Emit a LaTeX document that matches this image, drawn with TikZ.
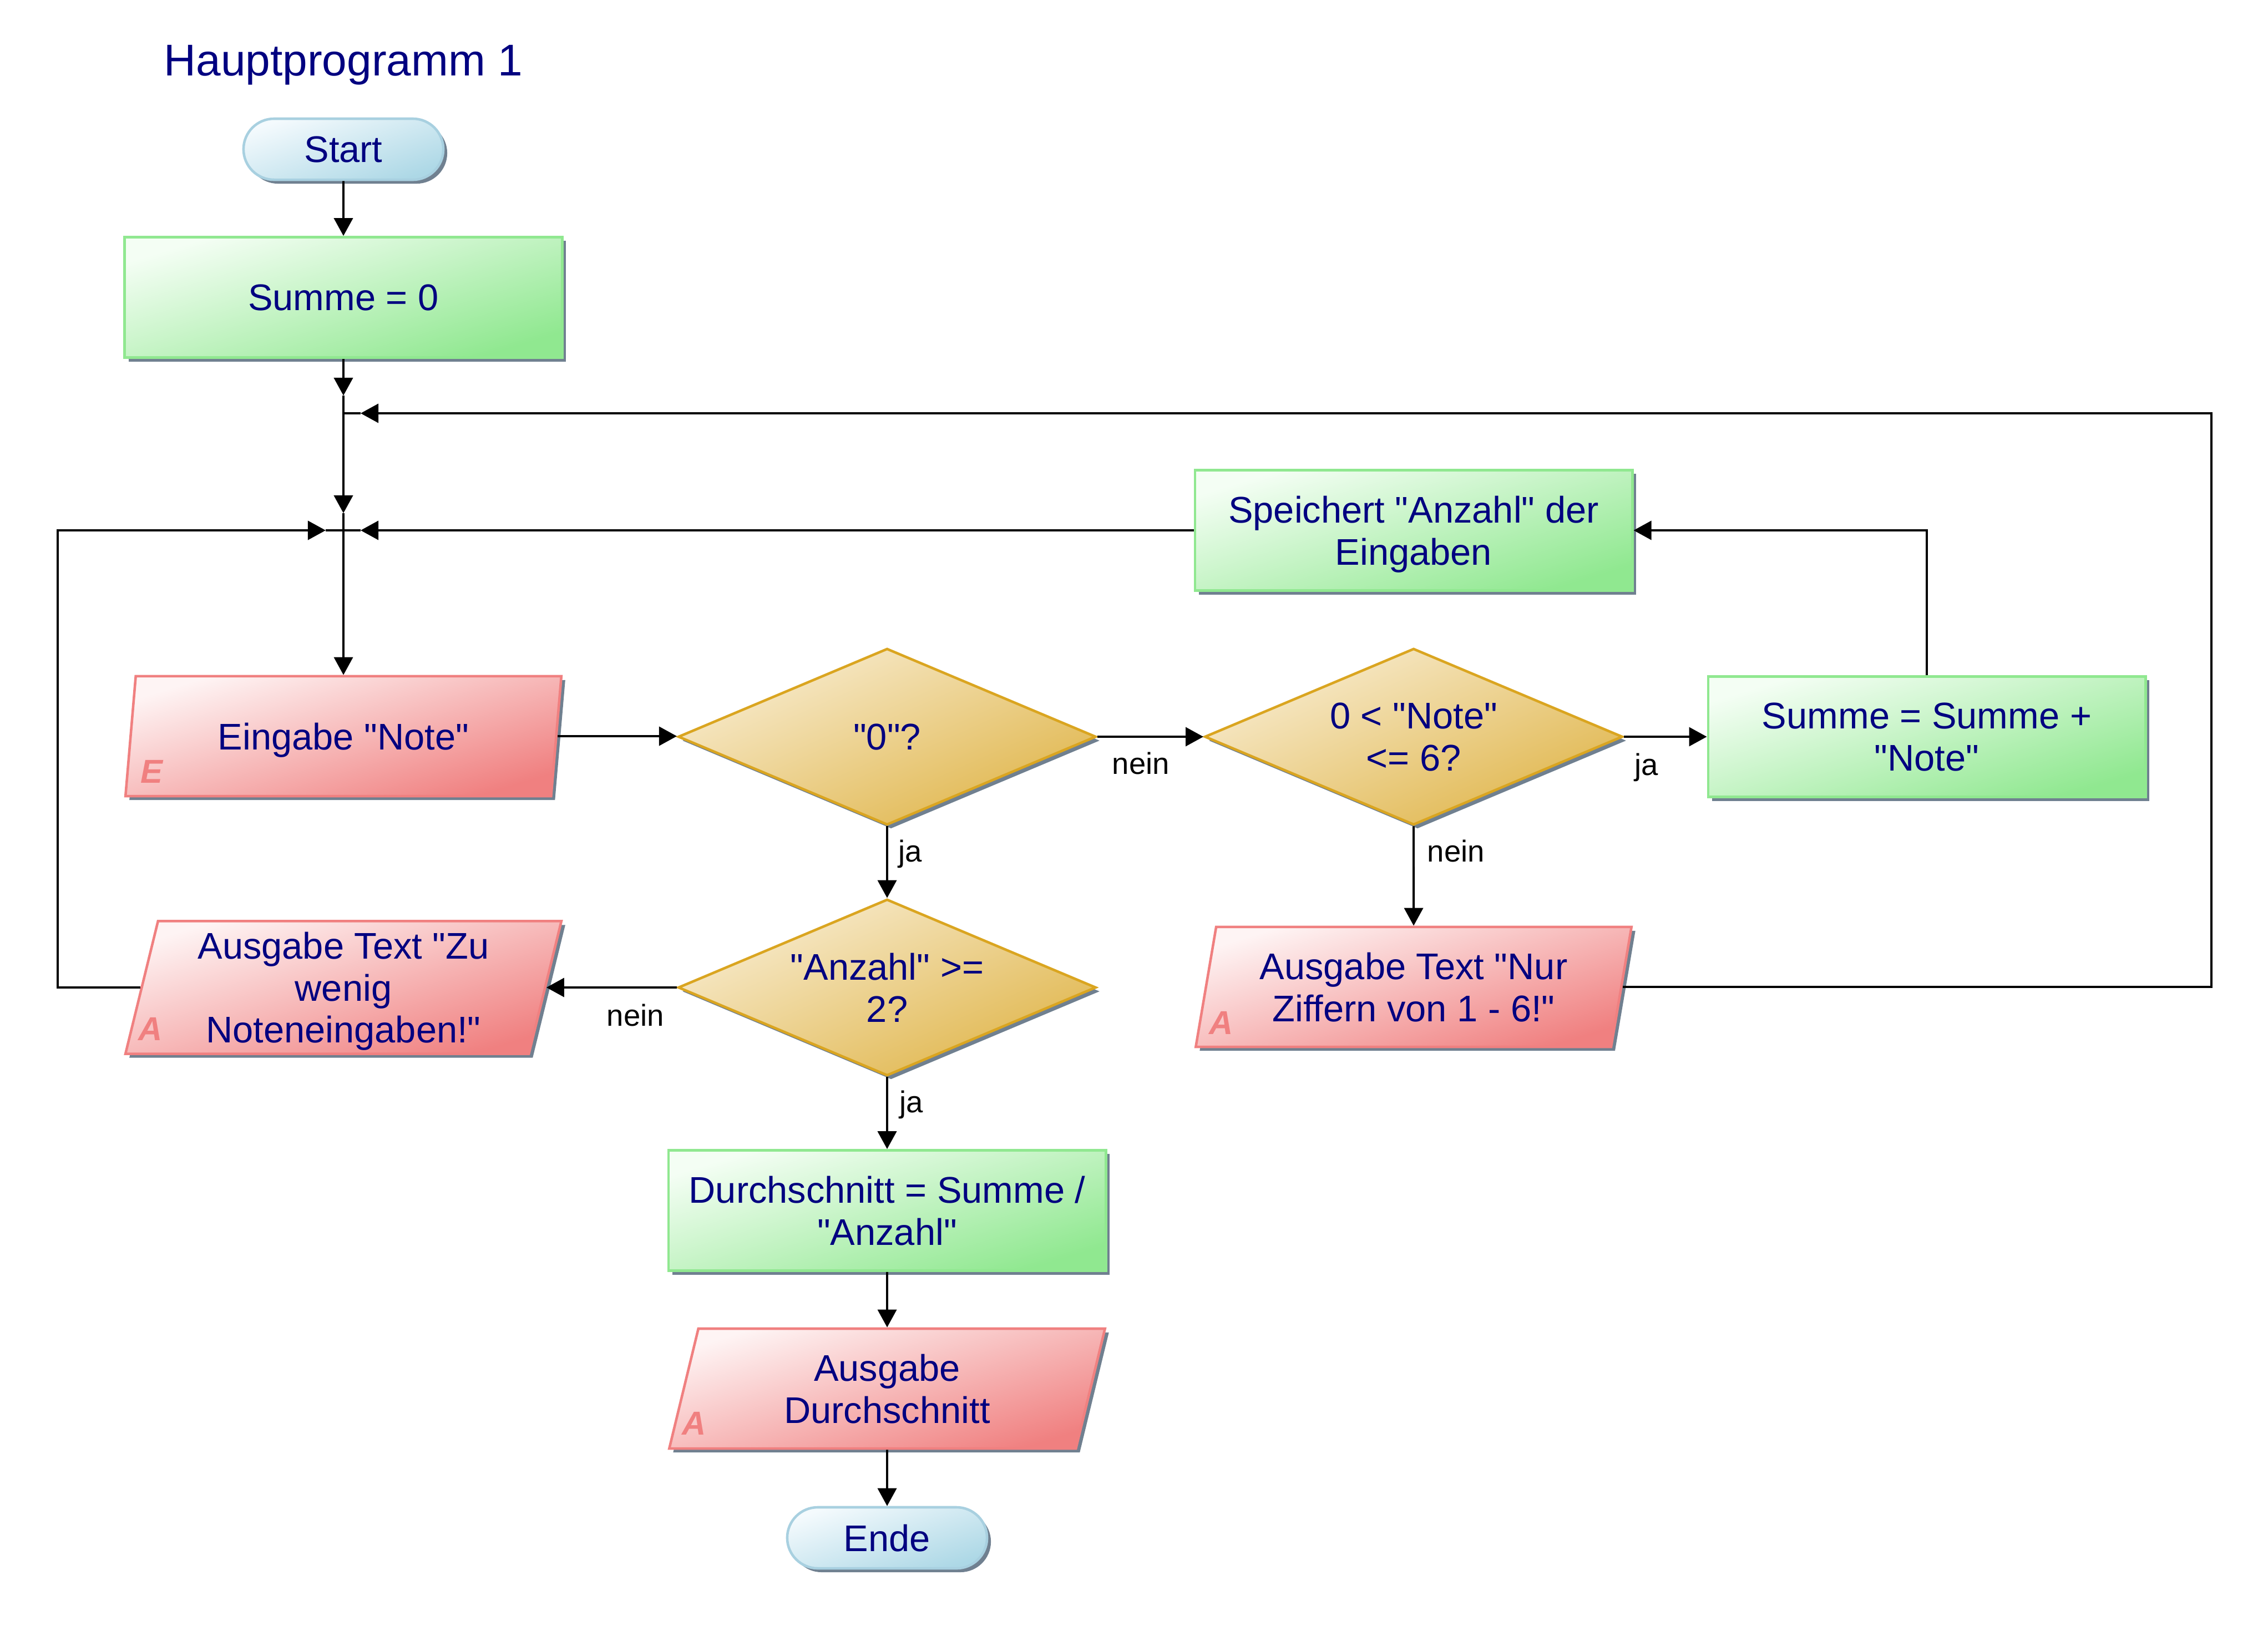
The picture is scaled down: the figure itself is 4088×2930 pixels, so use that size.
\documentclass[tikz,border=0pt]{standalone}
\usepackage{fontspec}
\setmainfont{Liberation Sans}[Ligatures=TeXOff]
\usetikzlibrary{shapes.geometric,shapes.misc,shadows,arrows.meta}
\definecolor{txt}{RGB}{0,0,128}
\definecolor{grnB}{RGB}{144,232,144}
\definecolor{grnL}{RGB}{244,254,244}
\definecolor{grnD}{RGB}{144,232,144}
\definecolor{redB}{RGB}{240,128,128}
\definecolor{redL}{RGB}{254,244,244}
\definecolor{redD}{RGB}{240,128,128}
\definecolor{golB}{RGB}{218,165,32}
\definecolor{golL}{RGB}{248,236,208}
\definecolor{golD}{RGB}{224,182,76}
\definecolor{bluB}{RGB}{168,208,224}
\definecolor{bluL}{RGB}{244,250,253}
\definecolor{bluD}{RGB}{173,216,230}
\definecolor{shd}{RGB}{112,128,144}
\begin{document}
\begin{tikzpicture}[x=0.01cm,y=-0.01cm,
  base/.style={draw, line width=1.3pt, text=txt, font=\fontsize{19}{21.5}\selectfont, align=center, inner sep=0pt,
    text depth=0pt,
    drop shadow={shadow xshift=0.07cm,shadow yshift=-0.07cm,fill=shd,opacity=1}},
  procbox/.style={base, rectangle, draw=grnB, top color=grnL, bottom color=grnD, shading angle=17,
    minimum width=7.88cm, minimum height=2.17cm},
  iobox/.style={base, trapezium, trapezium left angle=77, trapezium right angle=103, trapezium stretches=true,
    draw=redB, top color=redL, bottom color=redD, shading angle=17, minimum width=7.86cm, minimum height=2.16cm},
  decbox/.style={base, diamond, aspect=2.37, draw=golB, top color=golL, bottom color=golD, shading angle=24,
    minimum width=7.53cm, minimum height=3.18cm},
  termbox/.style={base, rounded rectangle, draw=bluB, top color=bluL, bottom color=bluD, shading angle=19,
    minimum width=3.6cm, minimum height=1.1cm},
  conn/.style={line width=1.1pt, -{Triangle[length=0.32cm,width=0.34cm]}},
  plain/.style={line width=1.1pt},
  lbl/.style={font=\fontsize{15.5}{18}\selectfont, anchor=base west, inner sep=0pt},
  ioletter/.style={text=redB, font=\fontsize{17}{20}\selectfont\bfseries\itshape, inner sep=0pt}
]
\useasboundingbox (0,0) rectangle (4088,2930);

\node[anchor=base west, text=txt, font=\fontsize{22.8}{26}\selectfont, inner sep=0pt] (title) at (295,136) {Hauptprogramm 1};

\node[termbox] (start) at (619,269) {Start};
\node[procbox] (summe0) at (619,536) {Summe = 0};
\node[iobox] (eingabe) at (619,1327) {Eingabe "Note"};
\node[decbox] (d0) at (1599,1328) {"0"?};
\node[decbox] (dnote) at (2548,1328) {0 < "Note"\\<= 6?};
\node[procbox] (splus) at (3473,1328) {Summe = Summe +\\"Note"};
\node[procbox] (speich) at (2548,956) {Speichert "Anzahl" der\\Eingaben};
\node[iobox, minimum height=2.39cm] (zuwenig) at (619,1780) {Ausgabe Text "Zu\\wenig\\Noteneingaben!"};
\node[decbox] (danz) at (1599,1780) {"Anzahl" >=\\2?};
\node[iobox] (nur) at (2548,1779) {Ausgabe Text "Nur\\Ziffern von 1 - 6!"};
\node[procbox] (durch) at (1599,2182) {Durchschnitt = Summe /\\"Anzahl"};
\node[iobox] (ausd) at (1599,2503) {Ausgabe\\Durchschnitt};
\node[termbox] (ende) at (1599,2772) {Ende};

\node[ioletter] (eE) at ([shift={(-346,64)}]eingabe.center) {E};
\node[ioletter] (aZ) at ([shift={(-348,75)}]zuwenig.center) {A};
\node[ioletter] (aN) at ([shift={(-347,65)}]nur.center) {A};
\node[ioletter] (aD) at ([shift={(-348,63)}]ausd.center) {A};

\coordinate (j1) at (619,713);
\coordinate (j2) at (619,925);
\coordinate (m1) at (619,745);
\coordinate (m2) at (619,956);
\coordinate (rtip) at (650,745);
\coordinate (ltip) at (587,956);
\coordinate (stip) at (650,956);
\coordinate (rx) at (3986,745);
\coordinate (lx) at (104,956);

\draw[conn] (start) -- (summe0);
\draw[conn] (summe0) -- (j1);
\draw[conn] (j1) -- (j2);
\draw[conn] (j2) -- (eingabe);
\draw[conn] (nur.east) -- (nur.east -| rx) -- (rx) -- (rtip);
\draw[plain] (rtip) -- (m1);
\draw[conn] (zuwenig.west) -- (zuwenig.west -| lx) -- (lx) -- (ltip);
\draw[plain] (ltip) -- (m2);
\draw[conn] (speich.west) -- (stip);
\draw[plain] (stip) -- (m2);
\draw[conn] (splus.north) -- (splus.north |- speich.east) -- (speich.east);
\draw[conn] (eingabe.east) -- (eingabe.east -| d0.west);
\draw[conn] (d0.east) -- (dnote.west);
\draw[conn] (dnote.east) -- (splus.west);
\draw[conn] (d0) -- (danz);
\draw[conn] (dnote) -- (nur);
\draw[conn] (danz.west) -- (zuwenig.east);
\draw[conn] (danz) -- (durch);
\draw[conn] (durch) -- (ausd);
\draw[conn] (ausd) -- (ende);

\node[lbl] (l1) at (2004,1395) {nein};
\node[lbl] (l2) at (1619,1553) {ja};
\node[lbl] (l3) at (2572,1553) {nein};
\node[lbl] (l4) at (2946,1397) {ja};
\node[lbl] (l5) at (1093,1849) {nein};
\node[lbl] (l6) at (1621,2005) {ja};
\end{tikzpicture}
\end{document}
